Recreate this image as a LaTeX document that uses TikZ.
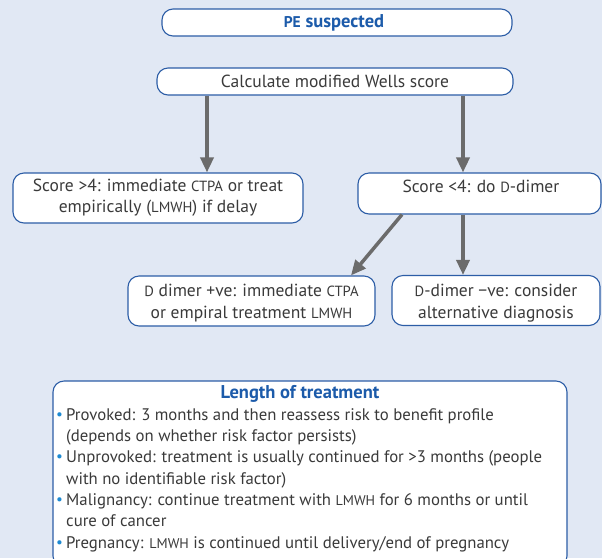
\documentclass[tikz,border=0pt]{standalone}
\usepackage{fontspec}
\setmainfont{PT Sans}
\usepackage{graphicx}
\usetikzlibrary{arrows.meta}
\definecolor{bg}{HTML}{E1E8F4}
\definecolor{frame}{HTML}{2C5DA6}
\definecolor{txt}{HTML}{3A3A3A}
\definecolor{ttl}{HTML}{1C5BAA}
\definecolor{arr}{HTML}{6B6B6B}
\definecolor{bul}{HTML}{1E8AD2}
\newcommand\acr[1]{\scalebox{0.84}{#1}}
\newcommand\bulitem{\makebox[10pt][l]{\textcolor{bul}{\raisebox{1pt}{\scalebox{0.9}{\textbullet}}}}}
\newcommand\indentln{\hspace*{10pt}}
\begin{document}
\begin{tikzpicture}[x=1pt,y=-1pt,
  box/.style={draw=frame,line width=1.1pt,fill=white,rounded corners=11pt,inner sep=0pt},
  lbl/.style={text=txt,font=\fontsize{17.5}{21.5}\selectfont,align=center,inner sep=0pt},
  ttlstyle/.style={text=ttl,font=\fontsize{18.5}{20}\selectfont\bfseries,inner sep=0pt},
  con/.style={draw=arr,line width=3.5pt,-{Triangle[width=13pt,length=15pt]}}]
\fill[bg] (0,0) rectangle (602,558);
\useasboundingbox (0,0) rectangle (602,558);
% boxes
\node[box,minimum width=350pt,minimum height=27pt] (b1) at (337,22.5) {};
\node[ttlstyle] (b1t) at (334,22.5) {\acr{PE} suspected};
\node[box,minimum width=356pt,minimum height=27pt] (b2) at (335,81.5) {};
\node[lbl] (b2t) at (b2) {Calculate modified Wells score};
\node[box,minimum width=290pt,minimum height=50pt] (b3) at (158,198) {};
\node[lbl] (b3t) at (158,197.5) {Score >4: immediate \acr{CTPA} or treat\\ empirically (\acr{LMWH}) if delay};
\node[box,minimum width=243pt,minimum height=41pt] (b4) at (479.5,193.5) {};
\node[lbl] (b4t) at (481,186) {Score <4: do \acr{D}-dimer};
\node[box,minimum width=247pt,minimum height=50pt] (b5) at (251.5,301) {};
\node[lbl] (b5t) at (251.5,303) {\acr{D} dimer +ve: immediate \acr{CTPA}\\ or empiral treatment \acr{LMWH}};
\node[box,minimum width=208pt,minimum height=50pt] (b6) at (496,300.5) {};
\node[lbl] (b6t) at (496,303) {\acr{D}-dimer −ve: consider\\ alternative diagnosis};
\node[box,minimum width=514pt,minimum height=186pt] (b7) at (310,474) {};
\node[ttlstyle] (b7t) at (300,393.5) {Length of treatment};
\node[text=txt,font=\fontsize{16.75}{21.35}\selectfont,align=left,inner sep=0pt,anchor=north west] (b7b) at (56,408)
 {\bulitem Provoked: 3 months and then reassess risk to benefit profile\\
  \indentln(depends on whether risk factor persists)\\
  \bulitem Unprovoked: treatment is usually continued for >3 months (people\\
  \indentln with no identifiable risk factor)\\
  \bulitem Malignancy: continue treatment with \acr{LMWH} for 6 months or until\\
  \indentln cure of cancer\\
  \bulitem Pregnancy: \acr{LMWH} is continued until delivery/end of pregnancy};
% connectors
\coordinate (xa) at (207,0);
\coordinate (xb) at (463,0);
\coordinate (d1) at (402,0);
\coordinate (d2) at (351,0);
\draw[con] (b2.south -| xa) -- (b3.north -| xa);
\draw[con] (b2.south -| xb) -- (b4.north -| xb);
\draw[con] (b4.south -| d1) -- (b5.north -| d2);
\draw[con] (b4.south -| xb) -- (b6.north -| xb);
\end{tikzpicture}
\end{document}
